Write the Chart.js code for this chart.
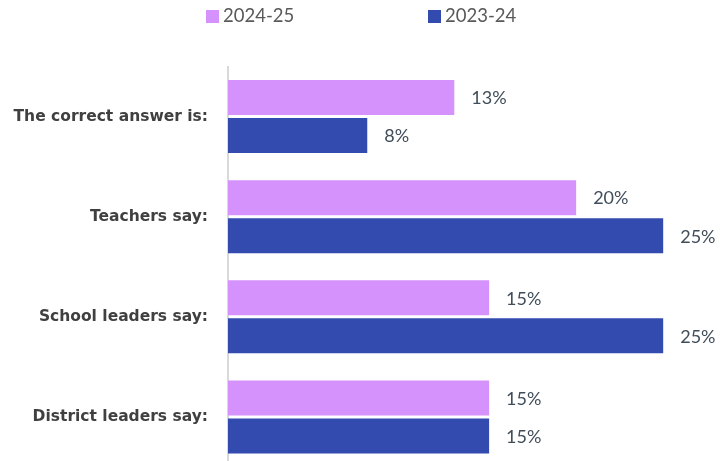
<!DOCTYPE html>
<html>
<head>
<meta charset="utf-8">
<script src="https://cdn.jsdelivr.net/npm/chart.js@4"></script>
<style>
  html, body { margin: 0; padding: 0; background: #fff; overflow: hidden; }
  #wrap { position: relative; width: 728px; height: 467px; }
  #legend { position: absolute; top: 4px; left: 0; width: 728px; font-family: Lato, sans-serif; font-size: 18.5px; color: #595959; }
  .item { position: absolute; top: 0; white-space: nowrap; line-height: 23px; }
  .box { display: inline-block; width: 13px; height: 13px; margin-right: 4px; vertical-align: -1px; }
</style>
</head>
<body>
<div id="wrap">
  <div id="legend"></div>
  <canvas id="survey_chart" width="728" height="467"></canvas>
</div>
<script>
// 질문별 응답 비율 (%)
const questions = ['The correct answer is:', 'Teachers say:', 'School leaders say:', 'District leaders say:'];
const series_names = ['2024-25', '2023-24'];
const values_2425 = [13, 20, 15, 15];
const values_2324 = [8, 25, 25, 15];
const series_colors = ['#d592fc', '#334aaf'];
const legend_x = [206, 428];

// 막대 끝에 값 표시
const valueLabels = {
  id: 'valueLabels',
  afterDatasetsDraw(chart) {
    const ctx = chart.ctx;
    ctx.save();
    ctx.font = '18px Lato, sans-serif';
    ctx.fillStyle = '#404d5a';
    ctx.textAlign = 'left';
    ctx.textBaseline = 'middle';
    chart.data.datasets.forEach(function(ds, i){
      chart.getDatasetMeta(i).data.forEach(function(bar, j){
        ctx.fillText(ds.data[j] + '%', bar.x + 17, bar.y + 1);
      });
    });
    ctx.restore();
  }
};

const surveyChart = new Chart(document.getElementById('survey_chart'), {
  type: 'bar',
  data: {
    labels: questions,
    datasets: [
      {label: series_names[0], data: values_2425, backgroundColor: series_colors[0]},
      {label: series_names[1], data: values_2324, backgroundColor: series_colors[1]}
    ]
  },
  options: {
    indexAxis: 'y',
    responsive: false,
    animation: false,
    categoryPercentage: 0.76,
    barPercentage: 35 / 38,
    layout: { padding: { top: 66.5, right: 30, bottom: 0, left: 0 } },
    plugins: {
      legend: { display: false },
      tooltip: { enabled: false }
    },
    scales: {
      x: {
        display: false,
        min: 0,
        max: 27
      },
      y: {
        grid: { display: false },
        border: { display: true, color: '#d9d9d9', width: 2 },
        ticks: {
          padding: 12,
          color: '#404040',
          font: { family: 'DejaVu Sans', size: 15.5, weight: 'bold' }
        },
        afterFit(scale) {
          scale.width = 228;
          scale.paddingTop = 0;
          scale.paddingBottom = 0;
        }
      }
    }
  },
  plugins: [valueLabels]
});

// 범례
const legend = document.getElementById('legend');
surveyChart.data.datasets.forEach(function(ds, i){
  let item = document.createElement('div');
  item.className = 'item';
  item.style.left = legend_x[i] + 'px';
  item.innerHTML = '<span class="box" style="background:' + ds.backgroundColor + '"></span>' + ds.label;
  legend.appendChild(item);
});
</script>
</body>
</html>
